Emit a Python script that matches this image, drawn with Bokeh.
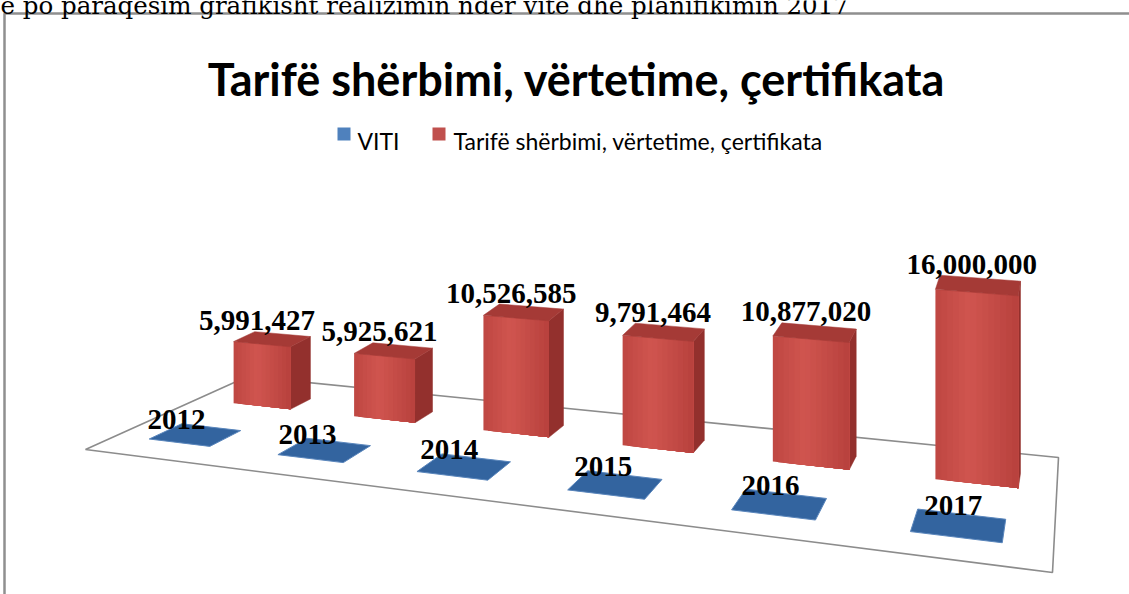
import numpy as np
from bokeh.plotting import figure
from bokeh.models import Range1d
from bokeh.core.properties import value
from bokeh.embed import file_html
from bokeh.resources import INLINE

# ---------------- data ----------------
years = ["2012", "2013", "2014", "2015", "2016", "2017"]
viti = [2012, 2013, 2014, 2015, 2016, 2017]
tarife = [5991427, 5925621, 10526585, 9791464, 10877020, 16000000]
series_names = ["VITI", "Tarifë shërbimi, vërtetime, çertifikata"]
chart_title = "Tarifë shërbimi, vërtetime, çertifikata"
caption = "e po paraqesim grafikisht realizimin ndër vite dhe planifikimin 2017"

# ---------------- layout / style ----------------
W, H = 1129, 594
FLOOR = [(85, 449), (1052, 572), (1058, 457), (247, 376)]  # FL, FR, BR, BL
SCALE_L, SCALE_R = 10.35e-6, 11.94e-6   # px per unit value, first / last category
BAR_FRAC = 0.48
V_BLUE = (0.17, 0.36)
V_RED = (0.64, 0.785)
RED_DX = 8
RED_EDGE, RED_MID = np.array([0xB8, 0x41, 0x3D]), np.array([0xD0, 0x55, 0x4F])
RED_TOP, RED_SIDE = "#A53A36", "#93302D"
BLUE_TOP, BLUE_FRONT = "#33649F", "#5A86BC"
LEG_BLUE, LEG_RED = "#4F81BD", "#C0504D"
LABEL_FONT = "Liberation Serif"
SANS = "Lato"
STRIPS = 14


def homography(src, dst):
    A, b = [], []
    for (u, v), (x, y) in zip(src, dst):
        A.append([u, v, 1, 0, 0, 0, -u * x, -v * x]); b.append(x)
        A.append([0, 0, 0, u, v, 1, -u * y, -v * y]); b.append(y)
    h = np.linalg.solve(np.array(A, float), np.array(b, float))
    return np.append(h, 1.0).reshape(3, 3)


HM = homography([(0, 0), (1, 0), (1, 1), (0, 1)], FLOOR)
n = len(years)
uc = [(i + 0.5) / n for i in range(n)]
HW = BAR_FRAC / n / 2


def vscale(u):
    return SCALE_L + (SCALE_R - SCALE_L) * (u - uc[0]) / (uc[-1] - uc[0])


def pt(u, v, h=0.0, dx=0.0):
    x, y, w = HM @ np.array([u, v, 1.0])
    return x / w + dx, y / w - h * vscale(u)


def hexcol(c):
    c = np.clip(np.round(c), 0, 255).astype(int)
    return "#%02X%02X%02X" % tuple(c)


p = figure(width=W, height=H, output_backend="svg", toolbar_location=None,
           x_range=Range1d(0, W), y_range=Range1d(H, 0),
           x_axis_type=None, y_axis_type=None, min_border=0,
           outline_line_color=None, background_fill_color="white",
           border_fill_color="white")
p.grid.visible = False

# outer chart border (gray)
p.line([4, 4, W + 5], [H + 5, 13, 13], line_color="#8F8F8F", line_width=2.5)

# caption text cut at top of the page
p.text(x=[0], y=[5], text=[caption], text_font=value("DejaVu Serif"),
       text_font_size="24.5px", text_baseline="alphabetic", text_align="left",
       text_color="black")

# title
p.text(x=[576], y=[78], text=[chart_title], text_font=value(SANS),
       text_font_style="bold", text_font_size="45px", text_align="center",
       text_baseline="alphabetic", text_color="black")

# legend
p.quad(left=[337], right=[350], top=[127], bottom=[140], fill_color=LEG_BLUE, line_color=None)
p.text(x=[357], y=[140], text=[series_names[0]], text_font=value(SANS),
       text_font_size="23px", text_baseline="alphabetic", text_color="black")
p.quad(left=[432], right=[445], top=[127], bottom=[140], fill_color=LEG_RED, line_color=None)
p.text(x=[453], y=[140], text=[series_names[1]], text_font=value(SANS),
       text_font_size="23px", text_baseline="alphabetic", text_color="black")

# floor
corners = [pt(0, 0), pt(1, 0), pt(1, 1), pt(0, 1)]
p.patch([c[0] for c in corners], [c[1] for c in corners], fill_color="white",
        line_color="#8C8C8C", line_width=1.6)


def xs(poly):
    return [q[0] for q in poly]


def ys(poly):
    return [q[1] for q in poly]


# red bars (back row)
front_x, front_y, front_c = [], [], []
side_x, side_y, top_x, top_y = [], [], [], []
red_lbl_x, red_lbl_y = [], []
v0, v1 = V_RED
for i, val in enumerate(tarife):
    u0, u1 = uc[i] - HW, uc[i] + HW
    # front face: overlapping strips (each runs to the right edge) -> smooth shading
    for k in range(STRIPS):
        a = u0 + (u1 - u0) * k / STRIPS
        poly = [pt(a, v0, 0, RED_DX), pt(u1, v0, 0, RED_DX), pt(u1, v0, val, RED_DX), pt(a, v0, val, RED_DX)]
        t = abs((k + 0.5) / STRIPS - 0.42) / 0.58
        front_x.append(xs(poly)); front_y.append(ys(poly))
        front_c.append(hexcol(RED_MID + (RED_EDGE - RED_MID) * t))
    side = [pt(u1, v0, 0, RED_DX), pt(u1, v1, 0, RED_DX), pt(u1, v1, val, RED_DX), pt(u1, v0, val, RED_DX)]
    top = [pt(u0, v0, val, RED_DX), pt(u1, v0, val, RED_DX), pt(u1, v1, val, RED_DX), pt(u0, v1, val, RED_DX)]
    side_x.append(xs(side)); side_y.append(ys(side))
    top_x.append(xs(top)); top_y.append(ys(top))
    fl, fr = pt(u0, v0, val, RED_DX), pt(u1, v0, val, RED_DX)
    red_lbl_x.append((fl[0] + fr[0]) / 2 - 5)
    red_lbl_y.append(min(top_y[-1]) - 11)

p.patches(side_x, side_y, fill_color=RED_SIDE, line_color=RED_SIDE, line_width=0.5)
p.patches(front_x, front_y, fill_color=front_c, line_color=None)
p.patches(top_x, top_y, fill_color=RED_TOP, line_color=RED_TOP, line_width=0.5)

# blue (VITI) bars (front row) - values tiny on this scale -> flat tiles
bx, by = [], []
blue_lbl_x, blue_lbl_y = [], []
v0, v1 = V_BLUE
for i, val in enumerate(viti):
    u0, u1 = uc[i] - HW, uc[i] + HW
    top = [pt(u0, v0, val), pt(u1, v0, val), pt(u1, v1, val), pt(u0, v1, val)]
    bx.append(xs(top)); by.append(ys(top))
    blue_lbl_x.append((top[0][0] + top[1][0]) / 2 - 3)
    blue_lbl_y.append(min(ys(top)) - 4)
p.patches(bx, by, fill_color=BLUE_TOP, line_color=BLUE_FRONT, line_width=1)

# data labels
p.text(x=red_lbl_x, y=red_lbl_y, text=[f"{v:,}" for v in tarife], text_font=value(LABEL_FONT),
       text_font_style="bold", text_font_size="29px", text_align="center",
       text_baseline="alphabetic", text_color="black")
p.text(x=blue_lbl_x, y=blue_lbl_y, text=[str(v) for v in viti], text_font=value(LABEL_FONT),
       text_font_style="bold", text_font_size="29px", text_align="center",
       text_baseline="alphabetic", text_color="black")

open("out.html", "w").write(file_html(p, INLINE))
